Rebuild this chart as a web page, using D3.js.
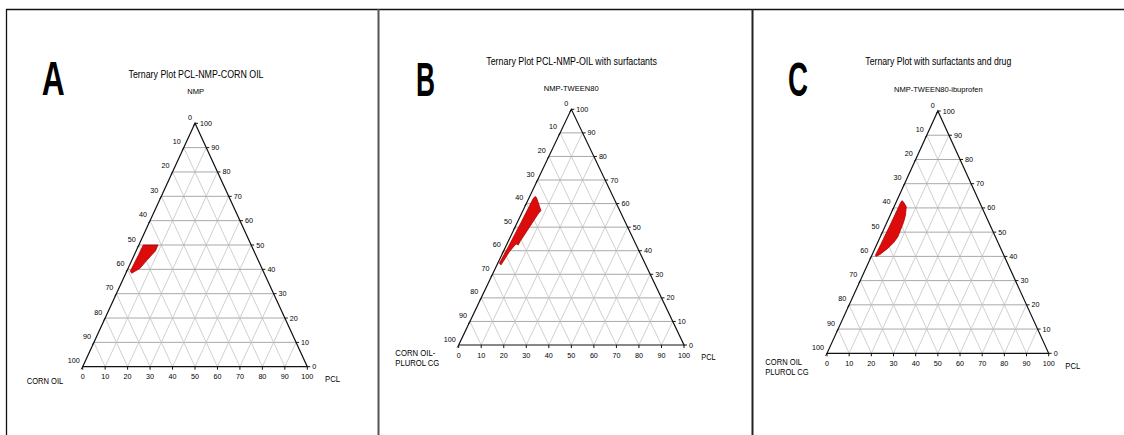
<!DOCTYPE html>
<html>
<head>
<meta charset="utf-8">
<script src="https://cdn.jsdelivr.net/npm/d3@7"></script>
<style>
  html, body { margin: 0; padding: 0; background: #fff; }
  svg { display: block; opacity: 0.999; }
  text { font-family: "Liberation Sans", Arial, sans-serif; fill: #000; }
</style>
</head>
<body>
<svg id="chart" width="1124" height="435"></svg>
<script>
// Percent tick values shared by the three ternary axes
const tickValues = [0, 10, 20, 30, 40, 50, 60, 70, 80, 90, 100];

// Panel letters and titles
const panelLetters = ["A", "B", "C"];
const panelTitles = [
  "Ternary Plot PCL-NMP-CORN OIL",
  "Ternary Plot PCL-NMP-OIL with surfactants",
  "Ternary Plot with surfactants and drug"
];
// Apex (top) component names
const apexLabels = ["NMP", "NMP-TWEEN80", "NMP-TWEEN80-ibuprofen"];
// Bottom-left component names (one entry per line)
const leftCornerLabels = [["CORN OIL"], ["CORN OIL-", "PLUROL CG"], ["CORN OIL", "PLUROL CG"]];
// Bottom-right component name
const rightCornerLabels = ["PCL", "PCL", "PCL"];

// Single-phase regions, outline points as [PCL %, NMP %] (oil makes up the rest)
const regionA = [[2, 50], [8.5, 50], [8.6, 47.5], [7.8, 46], [6.6, 43.5], [5.3, 40.4], [3.8, 39.3], [2.6, 38.4], [1.6, 39.2], [1.7, 42], [1.9, 46]];
const regionB = [[2.4, 63], [3.2, 62.6], [8, 57], [7.5, 56], [6.4, 50], [5.3, 44], [5.2, 42.4], [4.4, 42.9], [3.8, 42.5], [2.7, 39.6], [2.2, 36.5], [1.8, 34], [0.7, 34.7], [1.2, 42], [1.7, 52], [2, 62]];
const regionC = [[2.3, 63], [3.2, 62.5], [5.5, 60.5], [6.9, 57], [7.5, 54], [7.9, 48], [7.2, 45.6], [5.8, 43.4], [3.5, 40.8], [2.1, 40], [1.6, 40.6], [1.8, 45], [2.0, 52], [2.1, 58], [2.1, 62]];
const regions = [regionA, regionB, regionC];

// Layout of each panel: triangle corners and text anchors (pixels)
const layout = [
  { xl: 82.7, xr: 307.3, yb: 366.7, yt: 123.3,
    letter: { x: 41.7, y: 95, w: 23 },
    title: { x: 196, y: 77.5, w: 135 },
    apex: { x: 195.7, y: 93.5, w: 16.7 },
    left: { x: 26.7, y: 383.5, w: [36.6] },
    right: { x: 325, y: 382.2, w: 15 } },
  { xl: 458.7, xr: 684, yb: 345, yt: 109.3,
    letter: { x: 416, y: 96, w: 19 },
    title: { x: 571.6, y: 64.5, w: 170.7 },
    apex: { x: 571.2, y: 90.5, w: 55 },
    left: { x: 395.3, y: 355.5, w: [40, 44] },
    right: { x: 701.3, y: 360.2, w: 14.4 } },
  { xl: 827, xr: 1048.7, yb: 353.3, yt: 111,
    letter: { x: 788, y: 96, w: 20 },
    title: { x: 938.3, y: 64.5, w: 146 },
    apex: { x: 938.3, y: 91.8, w: 88.7 },
    left: { x: 765.3, y: 364.5, w: [36.7, 43.4] },
    right: { x: 1065.3, y: 369, w: 15 } }
];

const svg = d3.select("#chart");

// Outer frame: top rule, left rule and panel separators
svg.append("line").attr("x1", 6).attr("x2", 1124).attr("y1", 9.5).attr("y2", 9.5)
  .attr("stroke", "#111").attr("stroke-width", 1.3);
svg.append("line").attr("x1", 6.5).attr("x2", 6.5).attr("y1", 9).attr("y2", 435)
  .attr("stroke", "#111").attr("stroke-width", 1.3);
svg.append("line").attr("x1", 378.5).attr("x2", 378.5).attr("y1", 9).attr("y2", 435)
  .attr("stroke", "#555").attr("stroke-width", 2);
svg.append("line").attr("x1", 752.5).attr("x2", 752.5).attr("y1", 9).attr("y2", 435)
  .attr("stroke", "#222").attr("stroke-width", 2);

layout.forEach((L, i) => {
  const g = svg.append("g");
  // Horizontal position is driven by PCL + NMP/2, vertical by NMP
  const xs = d3.scaleLinear().domain([0, 100]).range([L.xl, L.xr]);
  const ys = d3.scaleLinear().domain([0, 100]).range([L.yb, L.yt]);
  const pt = (p, n) => [xs(p + n / 2), ys(n)];

  // Grid lines
  const grid = g.append("g");
  tickValues.slice(1, -1).forEach(v => {
    // constant NMP
    const a = pt(0, v), b = pt(100 - v, v);
    grid.append("line").attr("x1", a[0]).attr("y1", a[1]).attr("x2", b[0]).attr("y2", b[1])
      .attr("stroke", "#a8a8a8").attr("stroke-width", 1);
    // constant PCL
    const c = pt(v, 0), d = pt(v, 100 - v);
    grid.append("line").attr("x1", c[0]).attr("y1", c[1]).attr("x2", d[0]).attr("y2", d[1])
      .attr("stroke", "#c4c4c4").attr("stroke-width", 0.8);
    // constant oil
    const e = pt(100 - v, 0), f = pt(0, 100 - v);
    grid.append("line").attr("x1", e[0]).attr("y1", e[1]).attr("x2", f[0]).attr("y2", f[1])
      .attr("stroke", "#c4c4c4").attr("stroke-width", 0.8);
  });

  // Single-phase region
  const line = d3.line().x(d => pt(d[0], d[1])[0]).y(d => pt(d[0], d[1])[1]).curve(d3.curveLinearClosed);
  g.append("path").attr("d", line(regions[i]))
    .attr("fill", "#dc0c0c").attr("stroke", "#b00000").attr("stroke-width", 0.8)
    .attr("stroke-linejoin", "round");

  // Triangle outline
  const corners = [pt(0, 0), pt(100, 0), pt(0, 100)];
  g.append("path").attr("d", "M" + corners.map(c => c.join(",")).join("L") + "Z")
    .attr("fill", "none").attr("stroke", "#111").attr("stroke-width", 1.2);

  // Ticks and labels
  const tk = g.append("g").attr("font-size", 7.2);
  tickValues.forEach(v => {
    // bottom axis: PCL
    const b = pt(v, 0);
    tk.append("line").attr("x1", b[0]).attr("y1", b[1]).attr("x2", b[0]).attr("y2", b[1] + 3)
      .attr("stroke", "#111").attr("stroke-width", 1);
    tk.append("text").attr("x", b[0]).attr("y", b[1] + 12.5).attr("text-anchor", "middle").text(v);
    // right edge: NMP
    const r = pt(100 - v, v);
    tk.append("line").attr("x1", r[0]).attr("y1", r[1]).attr("x2", r[0] + 3).attr("y2", r[1])
      .attr("stroke", "#111").attr("stroke-width", 1);
    tk.append("text").attr("x", r[0] + 5).attr("y", r[1] + 2.5).text(v);
    // left edge: oil
    const l = pt(0, 100 - v);
    tk.append("line").attr("x1", l[0]).attr("y1", l[1]).attr("x2", l[0] - 1.5).attr("y2", l[1] + 2.5)
      .attr("stroke", "#111").attr("stroke-width", 1);
    tk.append("text").attr("x", l[0] - 3).attr("y", l[1] - 3.5).attr("text-anchor", "end").text(v);
  });

  // Panel letter
  svg.append("text").attr("x", L.letter.x).attr("y", L.letter.y)
    .attr("font-size", 49).attr("font-weight", "bold")
    .attr("textLength", L.letter.w).attr("lengthAdjust", "spacingAndGlyphs")
    .text(panelLetters[i]);

  // Title and apex label
  svg.append("text").attr("x", L.title.x - L.title.w / 2).attr("y", L.title.y)
    .attr("font-size", 10).attr("textLength", L.title.w).attr("lengthAdjust", "spacingAndGlyphs")
    .text(panelTitles[i]);
  svg.append("text").attr("x", L.apex.x - L.apex.w / 2).attr("y", L.apex.y)
    .attr("font-size", 8).attr("textLength", L.apex.w).attr("lengthAdjust", "spacingAndGlyphs")
    .text(apexLabels[i]);

  // Corner labels
  leftCornerLabels[i].forEach((s, k) => {
    svg.append("text").attr("x", L.left.x).attr("y", L.left.y + k * 10.8)
      .attr("font-size", 8.5).attr("textLength", L.left.w[k]).attr("lengthAdjust", "spacingAndGlyphs")
      .text(s);
  });
  svg.append("text").attr("x", L.right.x).attr("y", L.right.y)
    .attr("font-size", 8.5).attr("textLength", L.right.w).attr("lengthAdjust", "spacingAndGlyphs")
    .text(rightCornerLabels[i]);
});
</script>
</body>
</html>
